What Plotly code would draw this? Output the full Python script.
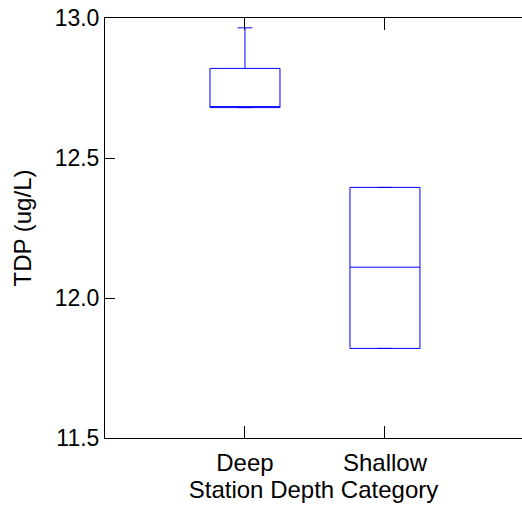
import plotly.graph_objects as go

categories = ["Deep", "Shallow"]
cat_pos = [1, 2]
q1 = [12.68, 11.82]
median = [12.68, 12.11]
q3 = [12.82, 12.395]
lower = [12.68, 11.82]
upper = [12.965, 12.395]

y_ticks = [11.5, 12.0, 12.5, 13.0]
y_ticktext = ["11.5", "12.0", "12.5", "13.0"]

FONT = "Liberation Sans, Arial, sans-serif"
FS = 24

fig = go.Figure()
for i, c in enumerate(categories):
    fig.add_trace(go.Box(
        x=[cat_pos[i]], q1=[q1[i]], median=[median[i]], q3=[q3[i]],
        lowerfence=[lower[i]], upperfence=[upper[i]],
        name=c, width=0.5, whiskerwidth=0.21,
        line=dict(color="#0000FF", width=1),
        fillcolor="rgba(255,255,255,0)",
        boxpoints=False, showlegend=False, hoverinfo="skip",
    ))

fig.update_layout(
    width=522, height=506,
    margin=dict(l=105, r=0, t=18, b=68),
    paper_bgcolor="white", plot_bgcolor="white",
    font=dict(family=FONT, size=FS, color="black"),
    xaxis=dict(
        range=[0, 2.979], tickvals=cat_pos, ticktext=categories,
        ticks="inside", ticklen=12, tickcolor="black", tickwidth=1,
        showline=True, linecolor="black", linewidth=1, mirror="ticks",
        showgrid=False, zeroline=False, automargin=False,
        tickfont=dict(size=FS), ticklabelstandoff=3,
        title=dict(text="Station Depth Category", standoff=5, font=dict(size=FS)),
    ),
    yaxis=dict(
        range=[11.5, 13.0], tickvals=y_ticks, ticktext=y_ticktext,
        ticks="inside", ticklen=10, tickcolor="black", tickwidth=1,
        showline=True, linecolor="black", linewidth=1, mirror=False,
        showgrid=False, zeroline=False, automargin=False,
        tickfont=dict(size=23),
        title=dict(text="TDP (ug/L)", standoff=16, font=dict(size=FS)),
    ),
    yaxis2=dict(
        overlaying="y", side="right", matches="y",
        range=[11.5, 13.0], tickvals=y_ticks,
        ticks="inside", ticklen=10, tickcolor="black", tickwidth=1,
        showticklabels=False, showline=False, showgrid=False,
        zeroline=False, automargin=False,
    ),
)

fig.write_html(
    "out.html",
    config={"displayModeBar": False},
    post_script="document.body.style.margin='0';document.body.style.overflow='hidden';",
)
